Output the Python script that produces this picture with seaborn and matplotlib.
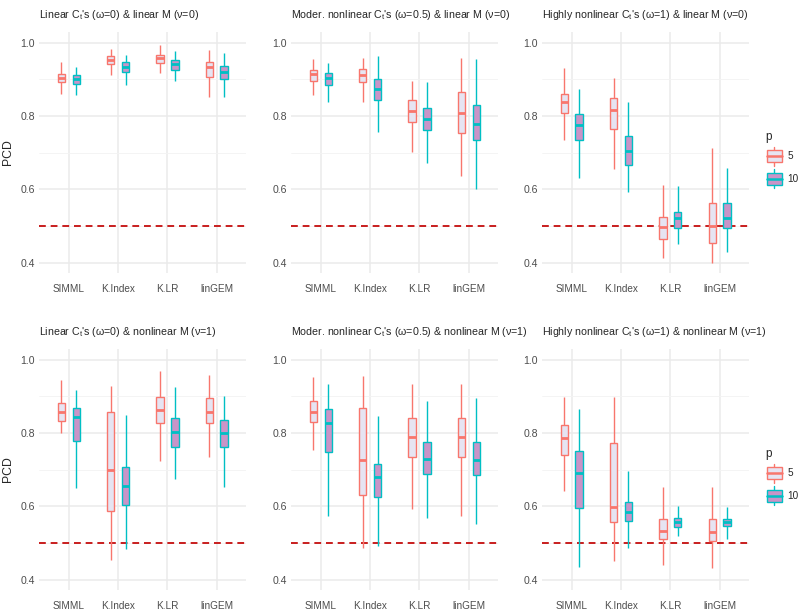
import numpy as np
import pandas as pd
import matplotlib
matplotlib.use("Agg")
import matplotlib.pyplot as plt
import seaborn as sns
from matplotlib.patches import Patch, Rectangle
from matplotlib.lines import Line2D
from matplotlib.legend_handler import HandlerBase
from matplotlib.ticker import FixedLocator

# ---- data: [lower whisker, Q1, median, Q3, upper whisker] per method ----
methods = ["SIMML", "K.Index", "K.LR", "linGEM"]
p_levels = ["5", "10"]

titles = [
    "Linear $C_t$'s (ω=0) & linear M (ν=0)",
    "Moder. nonlinear $C_t$'s (ω=0.5) & linear M (ν=0)",
    "Highly nonlinear $C_t$'s (ω=1) & linear M (ν=0)",
    "Linear $C_t$'s (ω=0) & nonlinear M (ν=1)",
    "Moder. nonlinear $C_t$'s (ω=0.5) & nonlinear M (ν=1)",
    "Highly nonlinear $C_t$'s (ω=1) & nonlinear M (ν=1)",
]

lin_lin_p5 = [[0.859, 0.893, 0.905, 0.916, 0.948], [0.912, 0.941, 0.952, 0.964, 0.984],
              [0.918, 0.945, 0.958, 0.968, 0.993], [0.852, 0.906, 0.934, 0.948, 0.980]]
lin_lin_p10 = [[0.857, 0.888, 0.900, 0.911, 0.935], [0.884, 0.920, 0.935, 0.947, 0.968],
               [0.895, 0.927, 0.943, 0.952, 0.977], [0.852, 0.900, 0.920, 0.936, 0.973]]

mod_lin_p5 = [[0.857, 0.897, 0.916, 0.925, 0.956], [0.839, 0.893, 0.911, 0.929, 0.959],
              [0.702, 0.785, 0.815, 0.844, 0.897], [0.636, 0.755, 0.809, 0.865, 0.959]]
mod_lin_p10 = [[0.839, 0.886, 0.905, 0.918, 0.945], [0.757, 0.843, 0.873, 0.900, 0.965],
               [0.673, 0.762, 0.793, 0.821, 0.894], [0.602, 0.736, 0.779, 0.829, 0.957]]

high_lin_p5 = [[0.736, 0.809, 0.838, 0.861, 0.930], [0.655, 0.765, 0.816, 0.850, 0.905],
               [0.414, 0.464, 0.497, 0.525, 0.611], [0.400, 0.455, 0.500, 0.562, 0.712]]
high_lin_p10 = [[0.630, 0.736, 0.775, 0.807, 0.875], [0.594, 0.666, 0.705, 0.745, 0.839],
                [0.450, 0.494, 0.523, 0.539, 0.609], [0.429, 0.495, 0.521, 0.562, 0.659]]

lin_non_p5 = [[0.800, 0.834, 0.859, 0.881, 0.945], [0.454, 0.587, 0.700, 0.859, 0.929],
              [0.725, 0.828, 0.864, 0.899, 0.970], [0.734, 0.828, 0.859, 0.896, 0.958]]
lin_non_p10 = [[0.650, 0.778, 0.843, 0.868, 0.917], [0.483, 0.605, 0.657, 0.707, 0.849],
               [0.675, 0.763, 0.804, 0.840, 0.926], [0.653, 0.763, 0.800, 0.836, 0.900]]

mod_non_p5 = [[0.754, 0.829, 0.858, 0.887, 0.952], [0.486, 0.632, 0.728, 0.868, 0.956],
              [0.593, 0.736, 0.790, 0.841, 0.934], [0.575, 0.734, 0.790, 0.841, 0.934]]
mod_non_p10 = [[0.573, 0.748, 0.827, 0.866, 0.934], [0.492, 0.627, 0.680, 0.716, 0.848],
               [0.569, 0.689, 0.730, 0.777, 0.887], [0.551, 0.686, 0.728, 0.777, 0.895]]

high_non_p5 = [[0.641, 0.740, 0.787, 0.822, 0.899], [0.451, 0.557, 0.598, 0.772, 0.899],
               [0.439, 0.510, 0.534, 0.567, 0.652], [0.433, 0.505, 0.530, 0.566, 0.652]]
high_non_p10 = [[0.434, 0.595, 0.691, 0.752, 0.867], [0.486, 0.559, 0.584, 0.613, 0.696],
                [0.518, 0.545, 0.557, 0.568, 0.600], [0.512, 0.546, 0.557, 0.566, 0.598]]

panels = [
    (lin_lin_p5, lin_lin_p10), (mod_lin_p5, mod_lin_p10), (high_lin_p5, high_lin_p10),
    (lin_non_p5, lin_non_p10), (mod_non_p5, mod_non_p10), (high_non_p5, high_non_p10),
]

fill_colors = {"5": "#E6E4F2", "10": "#C994C7"}
edge_colors = {"5": "#F8766D", "10": "#00BFC4"}

# long table: five summary values per box -> seaborn recovers them exactly
rows = []
for i, (s5, s10) in enumerate(panels):
    for lvl, stats in zip(p_levels, (s5, s10)):
        for m, vals in zip(methods, stats):
            for v in vals:
                rows.append({"panel": i, "method": m, "p": lvl, "PCD": v})
df = pd.DataFrame(rows)


class BoxKey(HandlerBase):
    def create_artists(self, legend, orig_handle, xdescent, ydescent,
                       width, height, fontsize, trans):
        x0, y0 = -xdescent, -ydescent
        fc = orig_handle.get_facecolor()
        ec = orig_handle.get_edgecolor()
        cx = x0 + width / 2
        lo = Line2D([cx, cx], [y0, y0 + 0.18 * height], color=ec, lw=1.0)
        hi = Line2D([cx, cx], [y0 + 0.82 * height, y0 + height], color=ec, lw=1.0)
        box = Rectangle((x0 + 0.08 * width, y0 + 0.18 * height), 0.84 * width,
                        0.64 * height, facecolor=fc, edgecolor=ec, lw=1.0)
        med = Line2D([x0 + 0.08 * width, x0 + 0.92 * width],
                     [y0 + 0.5 * height, y0 + 0.5 * height], color=ec, lw=1.8)
        arts = [lo, hi, box, med]
        for a in arts:
            a.set_transform(trans)
        return arts


sns.set_theme(style="whitegrid")
plt.rcParams["font.family"] = ["Liberation Sans", "DejaVu Sans"]
plt.rcParams["mathtext.default"] = "regular"

fig = plt.figure(figsize=(8, 6.12), dpi=100)
lefts = [0.049, 0.364, 0.6775]
bottoms = [0.554, 0.036]
w, h = 0.259, 0.394

for i in range(6):
    r, c = divmod(i, 3)
    ax = fig.add_axes([lefts[c], bottoms[r], w, h])
    sub = df[df["panel"] == i]
    ax.axhline(0.5, color="#C81E1E", lw=1.4, ls=(0, (3.5, 2.5)), zorder=1.5)
    for lvl in p_levels:
        sns.boxplot(data=sub[sub["p"] == lvl], x="method", y="PCD", hue="p",
                    order=methods, hue_order=p_levels, palette=fill_colors,
                    saturation=1, linecolor=edge_colors[lvl], width=0.6, gap=0.5,
                    whis=(0, 100), showcaps=False, linewidth=1.0,
                    medianprops=dict(linewidth=2.0), dodge=True,
                    legend=False, ax=ax)

    ax.set_xlim(-0.6, 3.6)
    ax.set_ylim(0.372, 1.03)
    ax.set_yticks([0.4, 0.6, 0.8, 1.0])
    ax.set_yticklabels(["0.4", "0.6", "0.8", "1.0"])
    ax.yaxis.set_minor_locator(FixedLocator([0.5, 0.7, 0.9]))
    ax.set_axisbelow(True)
    ax.grid(True, which="major", axis="both", color="#EBEBEB", lw=1.1)
    ax.grid(True, which="minor", axis="y", color="#F3F3F3", lw=0.6)
    for sp in ax.spines.values():
        sp.set_visible(False)
    ax.tick_params(which="both", length=0)
    ax.tick_params(axis="x", labelsize=7.2, colors="#4D4D4D", pad=8)
    ax.tick_params(axis="y", labelsize=7.6, colors="#4D4D4D", pad=3)
    ax.set_xlabel("")
    ax.set_ylabel("PCD" if c == 0 else "", fontsize=8.8, labelpad=5)
    ax.set_title(titles[i], loc="left", fontsize=7.7, pad=10)

    if c == 2:
        handles = [Patch(facecolor=fill_colors[l], edgecolor=edge_colors[l]) for l in p_levels]
        leg = ax.legend(handles, p_levels, title="p", loc="center left",
                        bbox_to_anchor=(1.04, 0.47), frameon=False,
                        handler_map={Patch: BoxKey()}, handlelength=1.8,
                        handleheight=2.55, fontsize=7.2, title_fontsize=8.5,
                        labelspacing=0.35, handletextpad=0.4, borderpad=0.3)
        leg._legend_box.align = "left"

fig.savefig("out.png", dpi=100)
